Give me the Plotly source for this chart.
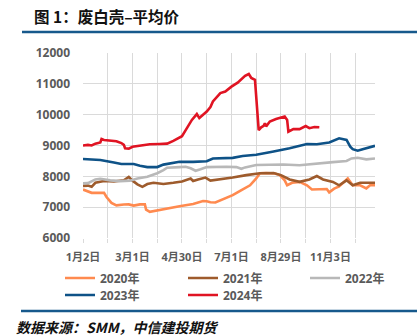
import plotly.graph_objects as go

# Trading-day index within the year and the average price (元/吨) for each year
day_2020 = [0, 4, 7, 17, 19, 23, 27, 33, 37, 41, 46, 50, 51, 54, 60, 68, 78, 89, 97, 100,
            103, 107, 113, 121, 127, 135, 140, 143, 148, 155, 159, 163, 165, 169, 175, 181,
            185, 191, 197, 199, 203, 207, 214, 218, 224, 229, 232, 236]
price_2020 = [7570, 7500, 7465, 7465, 7330, 7140, 7060, 7085, 7090, 7050, 7090, 7090, 6920,
              6850, 6900, 6960, 7030, 7100, 7200, 7190, 7160, 7150, 7250, 7390, 7530, 7710,
              7930, 8100, 8110, 8090, 8040, 7870, 7710, 7790, 7820, 7710, 7575, 7575, 7590,
              7480, 7600, 7670, 7930, 7710, 7710, 7610, 7710, 7710]

day_2021 = [0, 4, 7, 10, 17, 25, 33, 37, 40, 44, 48, 52, 57, 65, 73, 80, 87, 89, 93, 99,
            103, 111, 121, 132, 143, 154, 160, 167, 175, 183, 189, 194, 202, 207, 213, 218,
            224, 229, 236]
price_2021 = [7690, 7700, 7660, 7790, 7850, 7830, 7870, 7980, 7860, 7740, 7660, 7750, 7790,
              7750, 7790, 7835, 7930, 7850, 7900, 7960, 7860, 7900, 7960, 8040, 8100, 8110,
              8040, 7900, 7820, 7900, 8010, 7900, 7820, 7710, 7870, 7710, 7790, 7790, 7790]

day_2022 = [0, 4, 10, 14, 22, 30, 38, 44, 52, 60, 65, 68, 78, 83, 87, 91, 95, 100, 116,
            124, 128, 131, 140, 162, 175, 189, 202, 213, 217, 222, 229, 236]
price_2022 = [7770, 7780, 7900, 7920, 7870, 7845, 7860, 7930, 7985, 8100, 8200, 8280, 8300,
              8310, 8260, 8180, 8230, 8300, 8310, 8300, 8245, 8290, 8370, 8385, 8360, 8400,
              8460, 8500, 8580, 8600, 8550, 8580]

day_2023 = [0, 14, 25, 31, 41, 46, 52, 60, 65, 73, 78, 89, 100, 105, 121, 129, 140, 153,
            167, 181, 189, 199, 203, 207, 213, 216, 218, 222, 226, 236]
price_2023 = [8560, 8530, 8450, 8400, 8400, 8340, 8300, 8300, 8380, 8450, 8470, 8470, 8490,
              8580, 8600, 8660, 8700, 8800, 8910, 9050, 9040, 9100, 9180, 9235, 9180, 8960,
              8880, 8830, 8880, 8990]

day_2024 = [0, 4, 7, 10, 14, 15, 17, 22, 27, 31, 33, 34, 37, 40, 46, 54, 62, 68, 73, 78,
            80, 83, 88, 92, 94, 97, 100, 103, 105, 111, 115, 120, 125, 131, 134, 136, 139,
            142, 144, 146, 147, 148, 151, 156, 163, 165, 166, 170, 175, 180, 183, 187, 191]
price_2024 = [9000, 9020, 9000, 9060, 9100, 9210, 9180, 9150, 9140, 9080, 9020, 8910, 8900,
              8960, 9000, 9040, 9050, 9060, 9150, 9260, 9300, 9500, 9830, 10020, 9890, 10000,
              10100, 10250, 10430, 10700, 10750, 10910, 11040, 11260, 11320, 11190, 11130,
              9500, 9590, 9640, 9720, 9620, 9780, 9860, 9940, 9830, 9450, 9530, 9530, 9630,
              9560, 9600, 9590]

series_names = ["2020年", "2021年", "2022年", "2023年", "2024年"]
series_days = [day_2020, day_2021, day_2022, day_2023, day_2024]
series_prices = [price_2020, price_2021, price_2022, price_2023, price_2024]
series_colors = ["#FF8A4F", "#9E5B2C", "#B8B8B8", "#0E5287", "#E01423"]

# Category ticks: a gridline every 20 trading days, a date label every 40
tick_days = list(range(0, 237, 20))
tick_dates = {0: "1月2日", 40: "3月1日", 80: "4月30日", 120: "7月1日",
              160: "8月29日", 200: "11月3日"}
y_ticks = [6000, 7000, 8000, 9000, 10000, 11000, 12000]

W, H = 417, 336
ML, MR, MT, MB = 83, 42, 53, 98
PW, PH = W - ML - MR, H - MT - MB

# Legend slots (left edge, row centre) in pixels: three per row, two rows
legend_slots = [(60, 278), (183, 278), (305, 278), (60, 295), (183, 295)]


def px_x(px):
    return (px - ML) / PW


def px_y(py):
    return (H - MB - py) / PH


label_font = dict(family="Open Sans, Noto Sans CJK SC", color="#5A5A5A", weight="bold")

fig = go.Figure()
legend_layouts = {}
for k, (name, days, prices, color) in enumerate(
        zip(series_names, series_days, series_prices, series_colors)):
    legend_id = "legend" if k == 0 else f"legend{k + 1}"
    fig.add_trace(go.Scatter(x=days, y=prices, name=name, mode="lines",
                             line=dict(color=color, width=2.6), legend=legend_id))
    lx, ly = legend_slots[k]
    legend_layouts[legend_id] = dict(
        xref="container", yref="container", x=lx / W, y=1 - ly / H,
        xanchor="left", yanchor="middle", orientation="h",
        font=dict(size=12, **label_font), bgcolor="rgba(0,0,0,0)", itemwidth=30)

fig.update_layout(
    width=W, height=H,
    margin=dict(l=ML, r=MR, t=MT, b=MB, pad=0, autoexpand=False),
    paper_bgcolor="white", plot_bgcolor="white",
    showlegend=True,
    xaxis=dict(range=[0, 236], tickmode="array", tickvals=tick_days,
               ticktext=[tick_dates.get(d, "") for d in tick_days],
               showgrid=True, gridcolor="#DADADA", gridwidth=1,
               ticks="outside", ticklen=4, tickcolor="#DADADA",
               showline=False, zeroline=False, tickangle=0,
               tickfont=dict(size=11, **label_font), ticklabelstandoff=5),
    yaxis=dict(range=[6000, 12000], tickmode="array", tickvals=y_ticks,
               ticktext=[str(v) for v in y_ticks],
               showgrid=True, gridcolor="#DADADA", gridwidth=1,
               zeroline=False, showline=False, tickfont=dict(size=12, **label_font),
               ticklabelstandoff=12),
    shapes=[
        dict(type="line", xref="paper", yref="paper", x0=px_x(22), x1=px_x(417),
             y0=px_y(32), y1=px_y(32), line=dict(color="#17598C", width=2.5)),
        dict(type="line", xref="paper", yref="paper", x0=px_x(21), x1=px_x(417),
             y0=px_y(311), y1=px_y(311), line=dict(color="#17598C", width=2.5)),
    ],
    annotations=[
        dict(text="图 1：废白壳–平均价", xref="paper", yref="paper", x=px_x(32), y=px_y(16),
             xanchor="left", yanchor="middle", showarrow=False,
             font=dict(family="Noto Sans CJK SC", size=15.5, color="#111111", weight="bold")),
        dict(text="<i>数据来源：SMM，中信建投期货</i>", xref="paper", yref="paper",
             x=px_x(14), y=px_y(327), xanchor="left", yanchor="middle", showarrow=False,
             font=dict(family="Noto Sans CJK SC", size=14, color="#111111", weight="bold")),
    ],
)
fig.update_layout(**legend_layouts)

fig.write_html("out.html")
